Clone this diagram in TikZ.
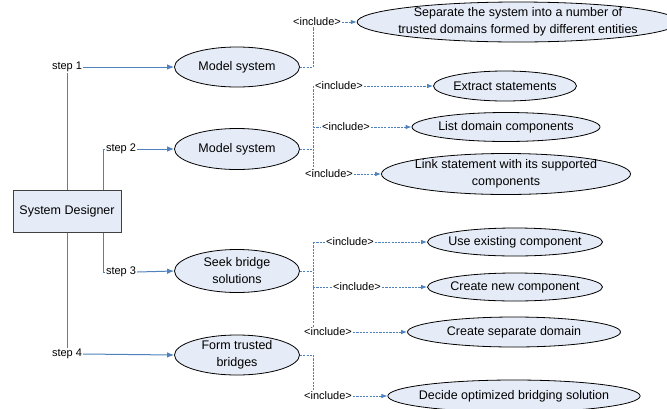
\documentclass[tikz,border=0pt]{standalone}
\usepackage{fontspec}
\setmainfont{Liberation Sans}
\usetikzlibrary{shapes.geometric,arrows.meta}
\definecolor{linkblue}{HTML}{4F81BD}
\definecolor{usefill}{HTML}{E6ECF7}
\definecolor{boxedge}{HTML}{404040}

\begin{document}
\begin{tikzpicture}[x=1pt,y=-1pt,
  usecase/.style={ellipse,draw=black,line width=0.8pt,fill=usefill,
    inner xsep=-6pt,inner ysep=-2pt,align=center,
    font=\fontsize{12.5}{17}\selectfont},
  actor/.style={rectangle,draw=boxedge,line width=1pt,fill=usefill,
    minimum width=108pt,minimum height=42pt,inner sep=0pt,
    font=\fontsize{12.5}{15}\selectfont},
  steplbl/.style={font=\fontsize{11}{13}\selectfont,inner sep=1pt},
  inclbl/.style={font=\fontsize{11}{13}\selectfont,inner sep=1pt},
  flow/.style={draw=linkblue,line width=1pt},
  flowarrow/.style={flow,-{Latex[length=7pt,width=5.5pt]}},
  incl/.style={draw=linkblue,line width=0.8pt,dash pattern=on 2.2pt off 1.1pt},
  inclarrow/.style={incl,-{Latex[length=6pt,width=4.5pt]}}
]
\useasboundingbox (0,0) rectangle (667,408);

% actor
\node[actor] (sd) at (67,211) {System Designer};

% step labels
\node[steplbl] (s1) at (67,67)   {step 1};
\node[steplbl] (s2) at (121,149) {step 2};
\node[steplbl] (s3) at (121,272) {step 3};
\node[steplbl] (s4) at (67,354)  {step 4};

% main use cases
\node[usecase,minimum width=125pt,minimum height=40pt] (m1) at (237,67)  {Model system};
\node[usecase,minimum width=125pt,minimum height=41pt] (m2) at (237,149) {Model system};
\node[usecase,minimum width=125pt,minimum height=43pt] (m3) at (237,271) {Seek bridge\\solutions};
\node[usecase,minimum width=125pt,minimum height=40pt] (m4) at (237,355) {Form trusted\\bridges};

% included use cases
\node[usecase,minimum width=289pt,minimum height=40pt] (e1) at (518,22)  {Separate the system into a number of\\trusted domains formed by different entities};
\node[usecase,minimum width=143pt,minimum height=30pt] (e2) at (505,86)  {Extract statements};
\node[usecase,minimum width=188pt,minimum height=29pt] (e3) at (506,127) {List domain components};
\node[usecase,minimum width=249pt,minimum height=41pt] (e4) at (506,174) {Link statement with its supported\\components};
\node[usecase,minimum width=175pt,minimum height=28pt] (e5) at (515,242) {Use existing component};
\node[usecase,minimum width=175pt,minimum height=28pt] (e6) at (515,287) {Create new component};
\node[usecase,minimum width=213pt,minimum height=30pt] (e7) at (514,332) {Create separate domain};
\node[usecase,minimum width=248pt,minimum height=32pt] (e8) at (514,396) {Decide optimized bridging solution};

% include labels
\node[inclbl] (i1) at (317,22)  {<include>};
\node[inclbl] (i2) at (339,86)  {<include>};
\node[inclbl] (i3) at (346,127) {<include>};
\node[inclbl] (i4) at (329,174) {<include>};
\node[inclbl] (i5) at (350,242) {<include>};
\node[inclbl] (i6) at (357,287) {<include>};
\node[inclbl] (i7) at (328,332) {<include>};
\node[inclbl] (i8) at (328,396) {<include>};

% x positions of the vertical trunks
\coordinate (t1) at (103,0);
\coordinate (j)  at (313,0);

% actor to steps
\draw[flow] (sd.north -| s1) -- (s1.south);
\draw[flow] (sd.north -| t1) |- (s2.west);
\draw[flow] (sd.south -| t1) |- (s3.west);
\draw[flow] (sd.south -| s4) -- (s4.north);
\draw[flowarrow] (s1.east) -- (m1.west);
\draw[flowarrow] (s2.east) -- (m2.west);
\draw[flowarrow] (s3.east) -- (m3.west);
\draw[flowarrow] (s4.east) -- (m4.west);

% includes of step 1
\draw[incl] (m1.east) -| (i1.south -| j);
\draw[inclarrow] (i1.east) -- (e1.west);

% includes of step 2
\draw[incl] (m2.east) -- (m2.east -| j);
\draw[incl] (i2.west -| j) -- (i4.north -| j);
\draw[incl] (i2.west -| j) -- (i2.west);
\draw[incl] (i3.west -| j) -- (i3.west);
\draw[inclarrow] (i2.east) -- (e2.west);
\draw[inclarrow] (i3.east) -- (e3.west);
\draw[inclarrow] (i4.east) -- (e4.west);

% includes of step 3
\draw[incl] (m3.east) -- (m3.east -| j);
\draw[incl] (i5.west -| j) -- (i7.north -| j);
\draw[incl] (i5.west -| j) -- (i5.west);
\draw[incl] (i6.west -| j) -- (i6.west);
\draw[inclarrow] (i5.east) -- (e5.west);
\draw[inclarrow] (i6.east) -- (e6.west);
\draw[inclarrow] (i7.east) -- (e7.west);

% includes of step 4
\draw[incl] (m4.east) -| (i8.north -| j);
\draw[inclarrow] (i8.east) -- (e8.west);
\end{tikzpicture}
\end{document}
